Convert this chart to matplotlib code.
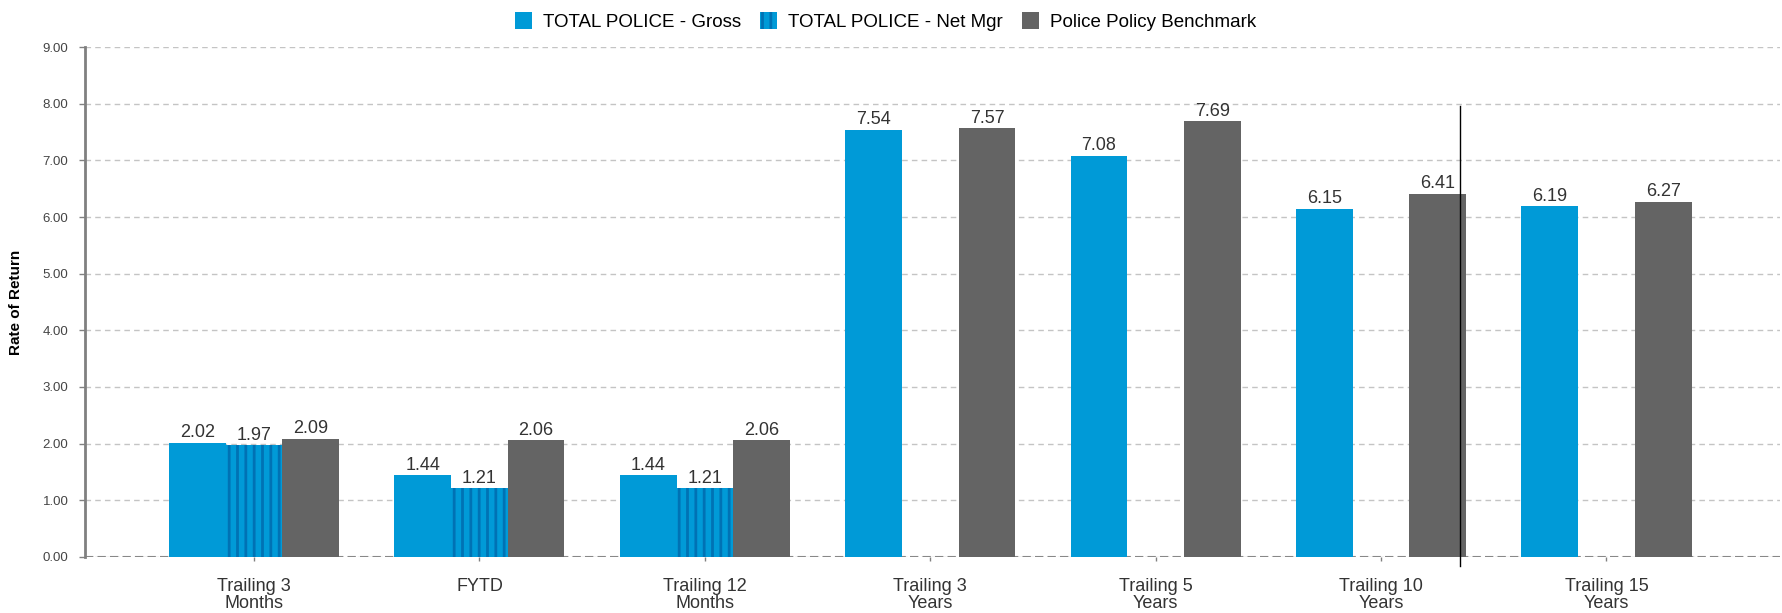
import numpy as np
import matplotlib
matplotlib.use("Agg")
import matplotlib.pyplot as plt
from matplotlib.patches import Patch

plt.rcParams['font.family'] = ['Liberation Sans', 'DejaVu Sans']
plt.rcParams['hatch.linewidth'] = 2.0

# data
categories = ["Trailing 3\nMonths", "FYTD", "Trailing 12\nMonths", "Trailing 3\nYears",
              "Trailing 5\nYears", "Trailing 10\nYears", "Trailing 15\nYears"]
gross = [2.02, 1.44, 1.44, 7.54, 7.08, 6.15, 6.19]
net_mgr = [1.97, 1.21, 1.21, np.nan, np.nan, np.nan, np.nan]
benchmark = [2.09, 2.06, 2.06, 7.57, 7.69, 6.41, 6.27]
series_names = ["TOTAL POLICE - Gross", "TOTAL POLICE - Net Mgr", "Police Policy Benchmark"]
yticks = np.arange(0, 9.5, 1.0)

blue = "#009AD7"
stripe = "#0072B4"
grey = "#646464"

fig = plt.figure(figsize=(17.82, 6.13), dpi=100)
ax = fig.add_axes([0.0477, 0.0914, 0.9512, 0.8319])

x = np.arange(len(categories))
w = 0.2515

b1 = ax.bar(x - w, gross, w, color=blue, linewidth=0, zorder=3)
b2 = ax.bar(x, net_mgr, w, color=blue, edgecolor=stripe, hatch="||", linewidth=0, zorder=3)
b3 = ax.bar(x + w, benchmark, w, color=grey, linewidth=0, zorder=3)

for bars, vals in [(b1, gross), (b2, net_mgr), (b3, benchmark)]:
    for rect, v in zip(bars, vals):
        if np.isnan(v):
            continue
        ax.annotate("%.2f" % v, (rect.get_x() + rect.get_width() / 2, v),
                    xytext=(0, 1), textcoords="offset points",
                    ha="center", va="bottom", fontsize=13, color="#333333", zorder=4)

ax.set_xlim(-0.75, 6.77)
ax.set_ylim(0, 9)
ax.set_yticks(yticks)
ax.set_yticklabels(["%.2f" % t for t in yticks], fontsize=9.5, color="#444444")
ax.set_xticks(x)
ax.set_xticklabels(categories, fontsize=13, color="#333333", linespacing=1.05)

ax.grid(axis="y", color="#c4c4c4", linestyle=(0, (4, 3)), linewidth=1, zorder=0)
ax.axhline(0, color="#888888", linestyle=(0, (4, 2)), linewidth=1.5, zorder=2)

for s in ["top", "right", "bottom"]:
    ax.spines[s].set_visible(False)
ax.spines["left"].set_color("#808080")
ax.spines["left"].set_linewidth(2)
ax.tick_params(axis="y", length=4, width=1, color="#808080", pad=8)
ax.tick_params(axis="x", length=3, width=1, color="#808080", pad=12)

ax.set_ylabel("Rate of Return", fontsize=11, fontweight="bold", labelpad=14)

# stray vertical line in the original screenshot
ax.plot([5.348, 5.348], [-0.16, 7.96], color="black", linewidth=1, clip_on=False, zorder=5)

handles = [Patch(facecolor=blue, linewidth=0),
           Patch(facecolor=blue, edgecolor=stripe, hatch="||", linewidth=0),
           Patch(facecolor=grey, linewidth=0)]
fig.legend(handles, series_names, loc="center", bbox_to_anchor=(0.497, 0.965), ncol=3,
           frameon=False, fontsize=13.5, handlelength=0.9, handleheight=1.0,
           handletextpad=0.6, columnspacing=1.0)

fig.savefig("out.png", dpi=100)
